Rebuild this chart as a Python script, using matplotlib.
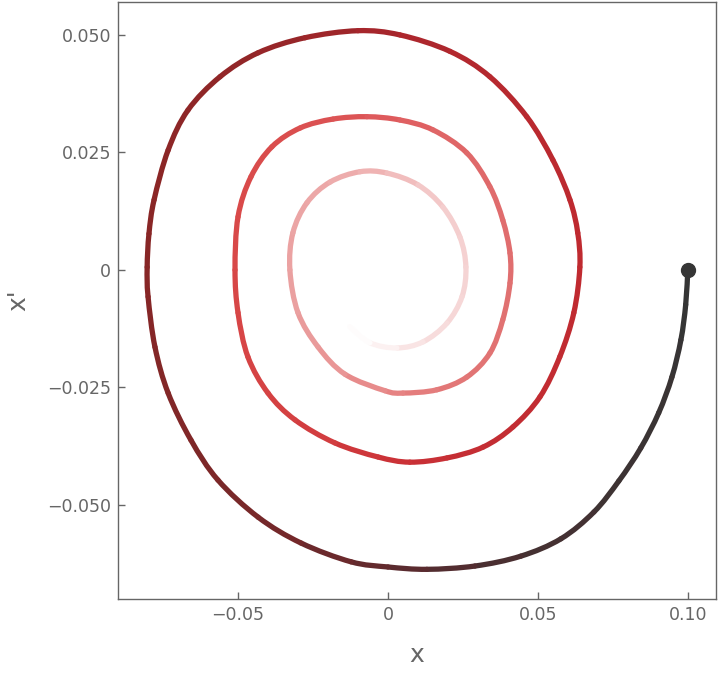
import numpy as np
import matplotlib
matplotlib.use("Agg")
import matplotlib.pyplot as plt
from matplotlib.collections import PatchCollection
from matplotlib.patches import PathPatch
from matplotlib.path import Path
from matplotlib.colors import LinearSegmentedColormap

# phase-space trajectory of the damped oscillator
x_vals = [
    0.1000, 0.0993, 0.0977, 0.0947, 0.0903, 0.0843, 0.0770, 0.0687, 0.0577, 0.0443,
    0.0290, 0.0130, 0.0000, -0.0123, -0.0290, -0.0433, -0.0567, -0.0657, -0.0733,
    -0.0777, -0.0800, -0.0803, -0.0797, -0.0780, -0.0733, -0.0667, -0.0560, -0.0433, -0.0277,
    -0.0100, 0.0040, 0.0207, 0.0340, 0.0463, 0.0550, 0.0607, 0.0633, 0.0640, 0.0620,
    0.0573, 0.0507, 0.0417, 0.0317, 0.0197, 0.0073, -0.0033, -0.0177, -0.0310, -0.0400,
    -0.0467, -0.0500, -0.0510, -0.0500, -0.0457, -0.0387, -0.0293, -0.0183, -0.0070, 0.0040,
    0.0150, 0.0263, 0.0340, 0.0383, 0.0407, 0.0407, 0.0383, 0.0340, 0.0263, 0.0163,
    0.0050, -0.0010, -0.0143, -0.0233, -0.0300, -0.0327, -0.0317, -0.0270, -0.0193, -0.0093,
    -0.0003, 0.0100, 0.0183, 0.0240, 0.0260, 0.0247, 0.0197, 0.0117, 0.0030, -0.0060,
    -0.0127,
]
v_vals = [
    0.0000, -0.0074, -0.0149, -0.0228, -0.0304, -0.0379, -0.0449, -0.0515, -0.0572, -0.0609,
    -0.0630, -0.0637, -0.0632, -0.0621, -0.0581, -0.0526, -0.0447, -0.0362, -0.0262,
    -0.0164, -0.0057, 0.0006, 0.0077, 0.0149, 0.0255, 0.0340, 0.0411, 0.0462, 0.0494,
    0.0509, 0.0500, 0.0465, 0.0411, 0.0326, 0.0234, 0.0149, 0.0079, 0.0006, -0.0091,
    -0.0185, -0.0270, -0.0334, -0.0377, -0.0400, -0.0409, -0.0398, -0.0368, -0.0319, -0.0262,
    -0.0185, -0.0091, 0.0000, 0.0113, 0.0198, 0.0262, 0.0302, 0.0321, 0.0326, 0.0319,
    0.0298, 0.0249, 0.0177, 0.0106, 0.0036, -0.0028, -0.0106, -0.0177, -0.0228, -0.0255,
    -0.0262, -0.0257, -0.0222, -0.0164, -0.0091, 0.0000, 0.0079, 0.0143, 0.0187, 0.0209,
    0.0206, 0.0181, 0.0134, 0.0070, 0.0006, -0.0057, -0.0113, -0.0153, -0.0166, -0.0155,
    -0.0121,
]

x_ticks = [-0.05, 0, 0.05, 0.10]
x_ticklabels = ["\u22120.05", "0", "0.05", "0.10"]
y_ticks = [-0.050, -0.025, 0, 0.025, 0.050]
y_ticklabels = ["\u22120.050", "\u22120.025", "0", "0.025", "0.050"]

stops = [
    (0.00, "#353535"), (0.07, "#5e2a2e"), (0.15, "#8a2626"), (0.22, "#a8262c"),
    (0.29, "#bf2a30"), (0.37, "#cc3338"), (0.44, "#d84848"), (0.51, "#de5a5c"),
    (0.59, "#e07070"), (0.66, "#e68484"), (0.73, "#eaa0a0"), (0.81, "#f0b8b8"),
    (0.88, "#f5d3d3"), (1.00, "#ffffff"),
]
cmap = LinearSegmentedColormap.from_list("trail", stops)

pts = np.column_stack([x_vals, v_vals])
n = len(pts)

# colour by accumulated angle around the centre (time runs evenly per turn)
ang = np.unwrap(np.arctan2(pts[:, 1] / 0.047, pts[:, 0] / 0.030))
frac = (ang[0] - ang) / (ang[0] - ang[-1])

# each piece is a smooth bezier through the read points, with its own colour
patches, cols = [], []
for i in range(n - 1):
    p0 = pts[max(i - 1, 0)]
    p1, p2 = pts[i], pts[i + 1]
    p3 = pts[min(i + 2, n - 1)]
    c1 = p1 + (p2 - p0) / 6
    c2 = p2 - (p3 - p1) / 6
    path = Path([p1, c1, c2, p2], [Path.MOVETO, Path.CURVE4, Path.CURVE4, Path.CURVE4])
    patches.append(PathPatch(path))
    cols.append(cmap((frac[i] + frac[i + 1]) / 2))

plt.rcParams["font.family"] = ["DejaVu Sans"]

fig = plt.figure(figsize=(7.2, 6.76), dpi=100)
ax = fig.add_axes([0.164, 0.114, 0.830, 0.883])

pc = PatchCollection(patches, facecolors="none", edgecolors=cols, linewidths=3.8)
pc.set_capstyle("round")
pc.set_joinstyle("round")
ax.add_collection(pc)
ax.plot(pts[0, 0], pts[0, 1], "o", color="#353535", markersize=10, zorder=5)

ax.set_xlim(-0.09, 0.1093)
ax.set_ylim(-0.0700, 0.0570)
ax.set_xticks(x_ticks)
ax.set_xticklabels(x_ticklabels)
ax.set_yticks(y_ticks)
ax.set_yticklabels(y_ticklabels)
ax.tick_params(direction="in", length=5, width=1, color="#666666",
               labelcolor="#666666", labelsize=12.5, pad=5)
for s in ax.spines.values():
    s.set_color("#666666")
    s.set_linewidth(1)

ax.set_xlabel("x", fontsize=18, color="#666666", labelpad=14)
ax.set_ylabel("x'", fontsize=18, color="#666666", labelpad=12)

fig.savefig("out.png", dpi=100)
